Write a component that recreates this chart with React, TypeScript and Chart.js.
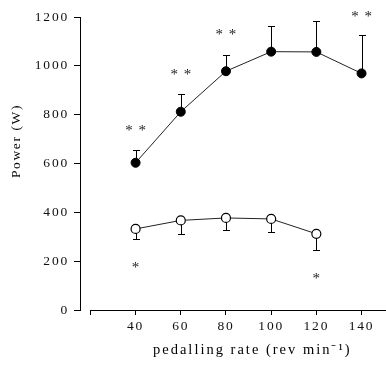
import React, { useEffect, useRef } from "react";
import { Chart, registerables } from "chart.js";

Chart.register(...registerables);

// Data
const rates = [40, 60, 80, 100, 120, 140];
const maxPower = [603, 812, 978, 1058, 1057, 969];
const maxPowerSD = [52, 71, 65, 105, 125, 159];

const rates2 = [40, 60, 80, 100, 120];
const meanPower = [332, 367, 377, 373, 312];
const meanPowerSD = [42, 55, 51, 54, 65];

const sigTopX = [40, 60, 80, 140];
const sigTopY = [750, 980, 1141, 1216];
const sigBotX = [40, 120];
const sigBotY = [189, 142];

const xTickValues = [20, 40, 60, 80, 100, 120, 140];
const yTickValues = [0, 200, 400, 600, 800, 1000, 1200];

const xTitle = "pedalling rate (rev min\u207B\u00B9)";
const yTitle = "Power (W)";

const FONT = "'Liberation Serif', 'Times New Roman', serif";

const customPlugin = {
  id: "custom",
  beforeDraw(chart: any) {
    (chart.ctx as any).letterSpacing = "1.8px";
  },
  beforeDatasetsDraw(chart: any) {
    const { ctx, scales } = chart;
    const x = scales.x;
    const y = scales.y;
    ctx.save();
    ctx.strokeStyle = "#000";
    ctx.lineWidth = 1;
    // x axis line starting at 20
    const ax = x.getPixelForValue(20);
    const ay = Math.round(y.getPixelForValue(0)) + 0.5;
    ctx.beginPath();
    ctx.moveTo(ax, ay);
    ctx.lineTo(chart.width, ay);
    ctx.stroke();
    const cap = 3.5;
    // error bars up (maximal power)
    rates.forEach((r, i) => {
      const px = Math.round(x.getPixelForValue(r)) + 0.5;
      const p0 = y.getPixelForValue(maxPower[i]);
      const p1 = Math.round(y.getPixelForValue(maxPower[i] + maxPowerSD[i])) + 0.5;
      ctx.beginPath();
      ctx.moveTo(px, p0);
      ctx.lineTo(px, p1);
      ctx.moveTo(px - cap, p1);
      ctx.lineTo(px + cap, p1);
      ctx.stroke();
    });
    // error bars down (mean power)
    rates2.forEach((r, i) => {
      const px = Math.round(x.getPixelForValue(r)) + 0.5;
      const p0 = y.getPixelForValue(meanPower[i]);
      const p1 = Math.round(y.getPixelForValue(meanPower[i] - meanPowerSD[i])) + 0.5;
      ctx.beginPath();
      ctx.moveTo(px, p0);
      ctx.lineTo(px, p1);
      ctx.moveTo(px - cap, p1);
      ctx.lineTo(px + cap, p1);
      ctx.stroke();
    });
    ctx.restore();
  },
  afterDraw(chart: any) {
    const { ctx, scales } = chart;
    const x = scales.x;
    const y = scales.y;
    ctx.save();
    (ctx as any).letterSpacing = "1px";
    ctx.fillStyle = "#222";
    ctx.textAlign = "center";
    ctx.textBaseline = "middle";
    ctx.font = `15px ${FONT}`;
    sigTopX.forEach((v, i) => {
      ctx.fillText("* *", x.getPixelForValue(v) + 0.5, y.getPixelForValue(sigTopY[i]) + 4);
    });
    sigBotX.forEach((v, i) => {
      ctx.fillText("*", x.getPixelForValue(v) + 0.5, y.getPixelForValue(sigBotY[i]) + 4);
    });
    // titles
    (ctx as any).letterSpacing = "2px";
    ctx.fillStyle = "#000";
    ctx.font = `14.5px ${FONT}`;
    ctx.textAlign = "left";
    ctx.fillText(xTitle, 153, 350);
    (ctx as any).letterSpacing = "1.6px";
    ctx.font = `13.5px ${FONT}`;
    ctx.textAlign = "center";
    ctx.translate(16, 141);
    ctx.rotate(-Math.PI / 2);
    ctx.fillText(yTitle, 0, 0);
    ctx.restore();
  },
};

export default function App() {
  const ref = useRef<HTMLCanvasElement | null>(null);
  useEffect(() => {
    document.body.style.margin = "0";
    const canvas = ref.current!;
    const chart = new Chart(canvas, {
      type: "line",
      data: {
        datasets: [
          {
            label: "max",
            data: rates.map((r, i) => ({ x: r, y: maxPower[i] })),
            borderColor: "#222",
            borderWidth: 1,
            backgroundColor: "#000",
            pointBackgroundColor: "#000",
            pointBorderColor: "#000",
            pointRadius: 4.5,
            pointBorderWidth: 1,
            tension: 0,
          },
          {
            label: "mean",
            data: rates2.map((r, i) => ({ x: r, y: meanPower[i] })),
            borderColor: "#222",
            borderWidth: 1,
            backgroundColor: "#fff",
            pointBackgroundColor: "#fff",
            pointBorderColor: "#000",
            pointRadius: 4.5,
            pointBorderWidth: 1.2,
            tension: 0,
          },
        ],
      },
      options: {
        animation: false,
        responsive: false,
        devicePixelRatio: 1,
        layout: { padding: { top: 17, right: 1, left: 0, bottom: 0 } },
        plugins: { legend: { display: false }, tooltip: { enabled: false } },
        scales: {
          x: {
            type: "linear",
            min: 15.4,
            max: 148.3,
            border: { display: false },
            grid: {
              display: true,
              drawOnChartArea: false,
              drawTicks: true,
              tickLength: 5,
              color: "#000",
            },
            afterBuildTicks: (s: any) => {
              s.ticks = xTickValues.map((v) => ({ value: v }));
            },
            afterFit: (s: any) => {
              s.height = 56;
            },
            ticks: {
              padding: 3,
              color: "#111",
              font: { family: FONT, size: 13.5 },
              callback: (v: any) => (v === 20 ? "" : String(v)),
              maxRotation: 0,
              autoSkip: false,
            },
          },
          y: {
            type: "linear",
            min: 0,
            max: 1200,
            border: { display: true, color: "#000", width: 1 },
            grid: {
              display: true,
              drawOnChartArea: false,
              drawTicks: true,
              tickLength: 6,
              color: "#000",
            },
            afterBuildTicks: (s: any) => {
              s.ticks = yTickValues.map((v) => ({ value: v }));
            },
            afterFit: (s: any) => {
              s.width = 80;
            },
            ticks: {
              padding: 5,
              color: "#111",
              font: { family: FONT, size: 13.5 },
              callback: (v: any) => String(v),
            },
          },
        },
      },
      plugins: [customPlugin],
    });
    return () => chart.destroy();
  }, []);
  return (
    <div style={{ width: 386, height: 366, background: "#fff" }}>
      <canvas ref={ref} width={386} height={366} style={{ display: "block" }} />
    </div>
  );
}
